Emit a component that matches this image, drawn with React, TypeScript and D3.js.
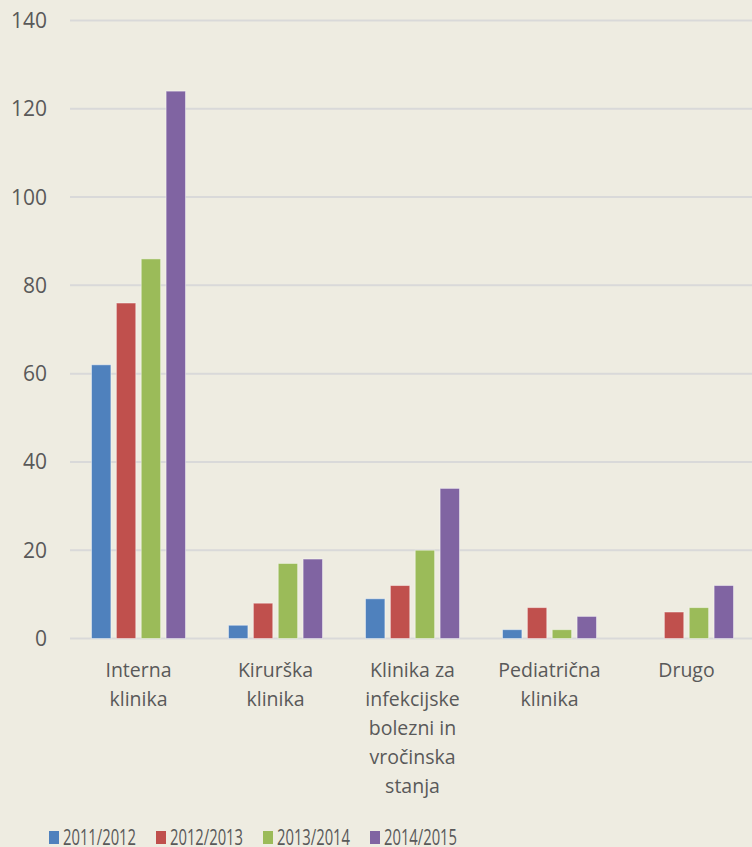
import * as d3 from "d3";

const categories = [
  ["Interna", "klinika"],
  ["Kirurška", "klinika"],
  ["Klinika za", "infekcijske", "bolezni in", "vročinska", "stanja"],
  ["Pediatrična", "klinika"],
  ["Drugo"],
];
const seriesNames = ["2011/2012", "2012/2013", "2013/2014", "2014/2015"];
const values2011 = [62, 3, 9, 2, 0];
const values2012 = [76, 8, 12, 7, 6];
const values2013 = [86, 17, 20, 2, 7];
const values2014 = [124, 18, 34, 5, 12];
const yTicks = [0, 20, 40, 60, 80, 100, 120, 140];

const COLORS = ["#4F81BD", "#C0504D", "#9BBB59", "#8064A2"];
const TEXT = "#595959";
const FONT = "'Open Sans', sans-serif";

const W = 752;
const H = 847;

export default function App() {
  const series = [values2011, values2012, values2013, values2014];
  const keys = categories.map((_, i) => String(i));

  const x = d3.scaleBand<string>().domain(keys).range([70, 755]).paddingInner(0).paddingOuter(0);
  const y = d3.scaleLinear().domain([0, 140]).range([638.5, 20.5]);
  const groupWidth = 94;
  const inner = d3
    .scaleBand<string>()
    .domain(seriesNames)
    .range([0, groupWidth])
    .paddingInner(0.22)
    .paddingOuter(0);

  const legendStep = 107;

  return (
    <svg
      width={W}
      height={H}
      style={{ position: "absolute", left: 0, top: 0, background: "#EEECE1" }}
      fontFamily={FONT}
    >
      <rect width={W} height={H} fill="#EEECE1" />
      {yTicks.map((t) => (
        <g key={t}>
          <line x1={70} x2={W} y1={y(t)} y2={y(t)} stroke="#D9D9D9" strokeWidth={2} />
          <text x={47} y={y(t)} dy="0.36em" textAnchor="end" fontSize={21} fill={TEXT}>
            {t}
          </text>
        </g>
      ))}
      {keys.map((k, ci) => {
        const x0 = (x(k) as number) + (x.bandwidth() - groupWidth) / 2;
        return (
          <g key={k}>
            {series.map((vals, si) => {
              const v = vals[ci];
              if (!v) return null;
              return (
                <rect
                  key={si}
                  x={x0 + (inner(seriesNames[si]) as number)}
                  y={y(v)}
                  width={inner.bandwidth()}
                  height={y(0) - y(v)}
                  fill={COLORS[si]}
                  stroke="#ffffff"
                  strokeOpacity={0.45}
                  strokeWidth={1}
                />
              );
            })}
            {categories[ci].map((line, li) => (
              <text
                key={li}
                x={(x(k) as number) + x.bandwidth() / 2}
                y={677 + li * 29}
                textAnchor="middle"
                fontSize={19.5}
                fill={TEXT}
              >
                {line}
              </text>
            ))}
          </g>
        );
      })}
      {seriesNames.map((name, i) => (
        <g key={name} transform={`translate(${49 + i * legendStep},0)`}>
          <rect x={0} y={831} width={10} height={13} fill={COLORS[i]} />
          <text
            x={14}
            y={845}
            fontSize={22}
            fill={TEXT}
            textLength={73}
            lengthAdjust="spacingAndGlyphs"
          >
            {name}
          </text>
        </g>
      ))}
    </svg>
  );
}
